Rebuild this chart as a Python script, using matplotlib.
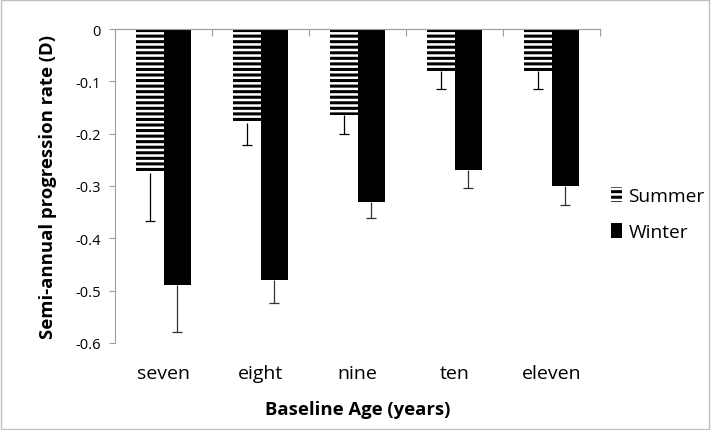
import numpy as np
import matplotlib
matplotlib.use("Agg")
import matplotlib.pyplot as plt
from matplotlib.patches import Rectangle

plt.rcParams['font.family'] = ['Open Sans', 'DejaVu Sans']
plt.rcParams['hatch.linewidth'] = 2.2

categories = ['seven', 'eight', 'nine', 'ten', 'eleven']
summer = [-0.275, -0.180, -0.165, -0.080, -0.080]
summer_err = [0.092, 0.042, 0.035, 0.035, 0.035]
winter = [-0.490, -0.480, -0.330, -0.270, -0.300]
winter_err = [0.089, 0.043, 0.031, 0.034, 0.036]
yticks = [0, -0.1, -0.2, -0.3, -0.4, -0.5, -0.6]

fig = plt.figure(figsize=(7.11, 4.31), dpi=100)
ax = fig.add_axes([115/711, 1 - 344/431, 485/711, 314/431])

x = np.arange(len(categories))
w = 0.285
ax.bar(x - w/2, summer, w, color='white', edgecolor='black', linewidth=0,
       hatch='---', label='Summer', zorder=2)
ax.bar(x + w/2, winter, w, color='black', edgecolor='black', linewidth=0,
       label='Winter', zorder=2)

# error bars only on the downward side, cap at the lower end
def low_err(xs, vals, errs, col):
    lows = np.array(vals) - np.array(errs)
    ax.vlines(xs, lows, vals, color=col, linewidth=0.9, zorder=3)
    ax.plot(xs, lows, linestyle='none', marker='_', markersize=7,
            markeredgewidth=0.9, color=col, zorder=3)

low_err(x - w/2, summer, summer_err, 'black')
low_err(x + w/2, winter, winter_err, '#333333')

ax.set_xlim(-0.5, len(categories) - 0.5)
ax.set_ylim(-0.6, 0)
ax.set_yticks(yticks)
ax.set_yticklabels(['0', '-0.1', '-0.2', '-0.3', '-0.4', '-0.5', '-0.6'])
ax.set_xticks(x)
ax.set_xticklabels(categories, fontsize=14)
ax.tick_params(axis='x', length=0, pad=15)
ax.tick_params(axis='y', length=4, color='#a0a0a0', labelsize=10.5, pad=6)

for s in ['right', 'bottom']:
    ax.spines[s].set_visible(False)
ax.spines['left'].set_color('#a0a0a0')
ax.spines['top'].set_color('#a0a0a0')

# category boundary ticks on the zero line
top = ax.secondary_xaxis('top')
top.set_xticks(np.arange(len(categories) + 1) - 0.5)
top.tick_params(direction='in', length=5, color='#a0a0a0', labeltop=False)
top.spines['top'].set_color('#a0a0a0')

ax.set_ylabel('Semi-annual progression rate (D)', fontsize=13.3, fontweight='bold',
              labelpad=13)
ax.set_xlabel('Baseline Age (years)', fontsize=13.3, fontweight='bold', labelpad=13)

fig.legend(*ax.get_legend_handles_labels(), loc='center left',
           bbox_to_anchor=(594/711, 1 - 215/431), frameon=False,
           fontsize=13.8, handlelength=0.55, handleheight=0.8, handletextpad=0.35,
           labelspacing=0.95)

fig.patches.append(Rectangle((0.002, 0.003), 0.995, 0.994, transform=fig.transFigure,
                             fill=False, edgecolor='#c0c0c0', linewidth=1))

fig.savefig('out.png', dpi=100)
